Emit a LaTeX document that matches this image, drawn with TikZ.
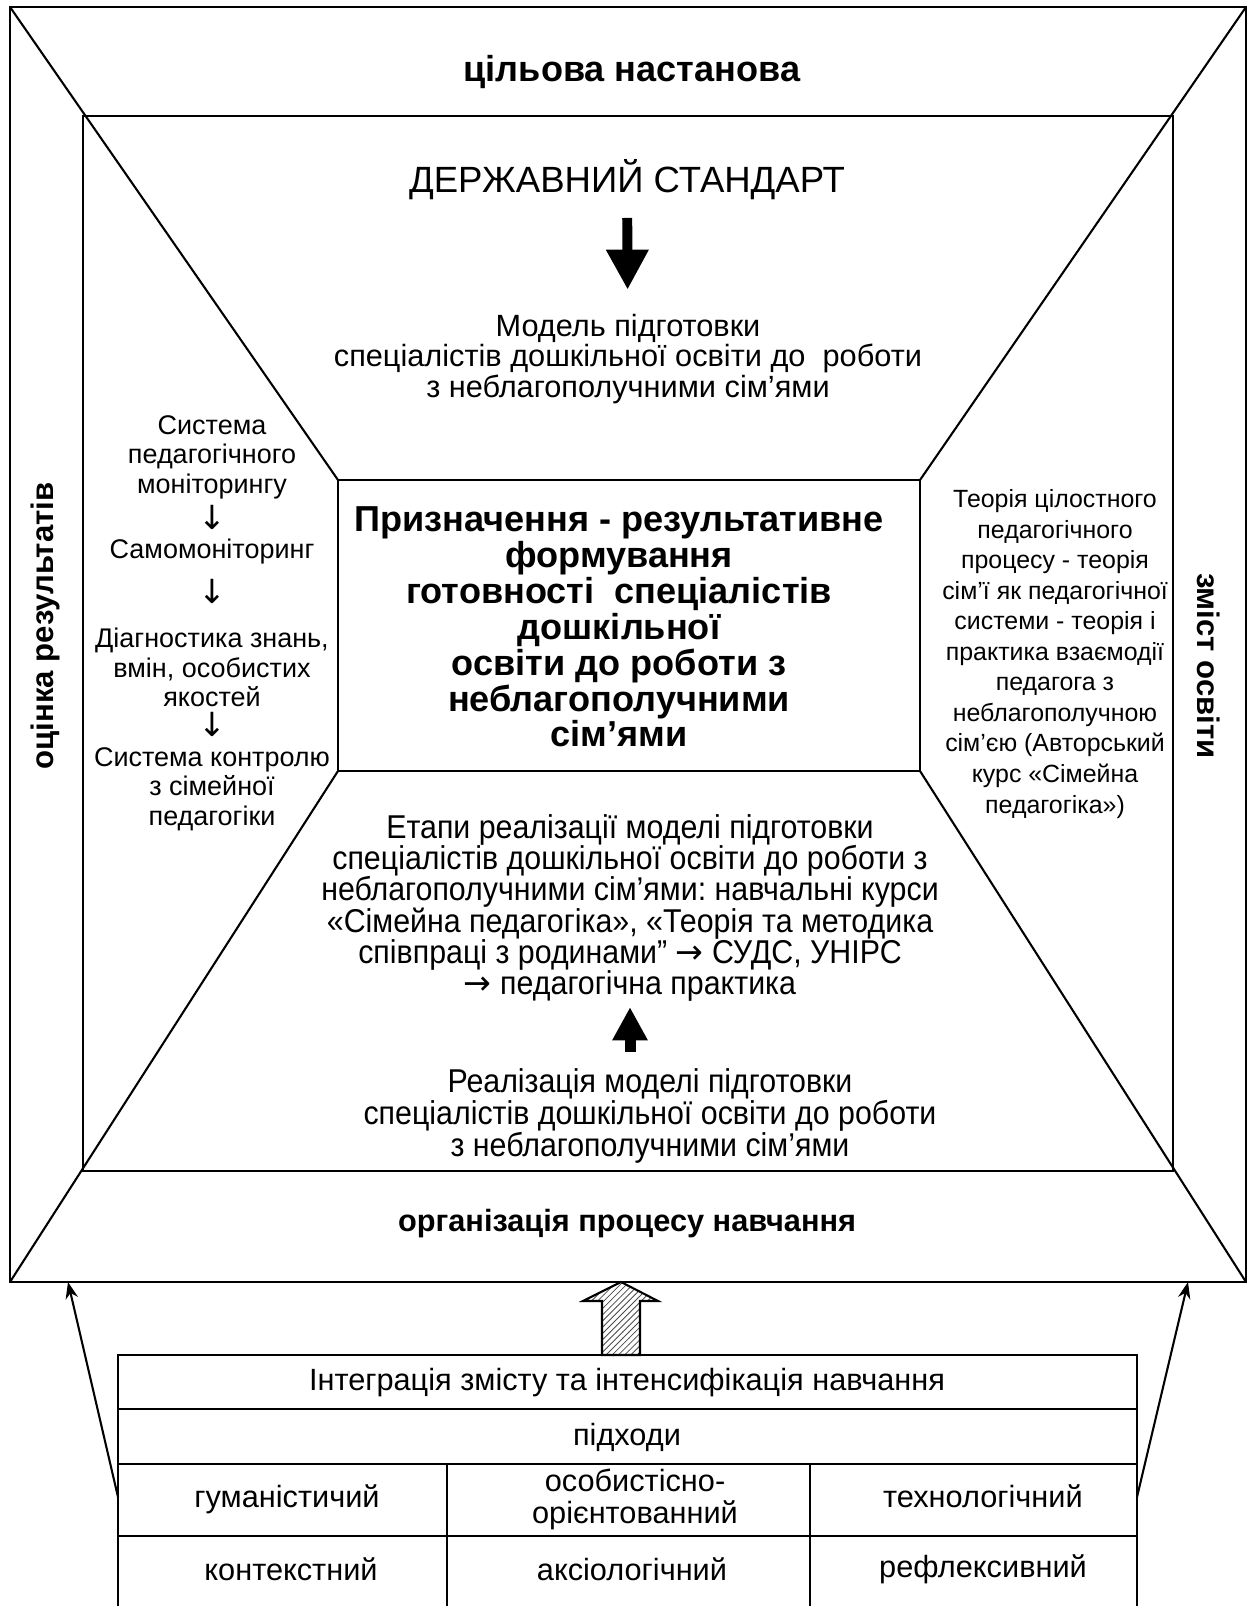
\documentclass[tikz,border=0pt]{standalone}
\usepackage{fontspec}
\setmainfont{Liberation Sans}
\newfontfamily\narrowfont[FakeStretch=0.92]{Liberation Sans}
\newfontfamily\symfont{DejaVu Sans}
\frenchspacing
\lineskiplimit=-\maxdimen
\usetikzlibrary{arrows.meta, patterns, calc}

\tikzset{
  frame/.style={line width=1.3pt},
  diag/.style={line width=1pt},
  txt/.style={align=center, inner sep=0pt},
  blockdown/.style={line width=4.8pt, -{Triangle[width=19.3pt, length=19.3pt]}},
  blockup/.style={line width=5.3pt, -{Triangle[width=16pt, length=16pt]}},
  thinarrow/.style={line width=1pt, -{Stealth[length=8pt, width=6pt]}},
  hatcharrow/.style={line width=1pt, pattern=north east lines, pattern color=black!70},
  cell/.style={txt, font=\fontsize{14.8}{15.5}\selectfont}
}
\newcommand{\dnarr}{{\symfont\fontsize{16}{13}\selectfont ↓}}
\newcommand{\rtarr}{{\symfont\fontsize{16}{14}\selectfont →}}

\begin{document}
\begin{tikzpicture}[x=0.4818pt, y=-0.4818pt]

 %%Paramaters
\useasboundingbox (0,0) rectangle (1254,1606);
\def\tabL{118}
\def\tabR{1137}
\def\colA{447}
\def\colB{810}

%% frames
\draw[frame] (10,7) rectangle (1246,1282);
\draw[frame] (83,116) rectangle (1173,1171);
\draw[frame] (338,480) rectangle (920,771);
\draw[diag] (10,7) -- (338,480);
\draw[diag] (1246,7) -- (920,480);
\draw[diag] (10,1282) -- (338,771);
\draw[diag] (1246,1282) -- (920,771);

%% side labels
\node[txt, font=\bfseries\fontsize{17.4}{20}\selectfont] (goal) at (632,72) {цільова настанова};
\node[txt, font=\bfseries\fontsize{14.8}{17}\selectfont] (organis) at (627,1224) {організація процесу навчання};
\node[txt, rotate=90, font=\bfseries\fontsize{15}{18}\selectfont] (evaluation) at (45,626) {оцінка результатів};
\node[txt, rotate=-90, font=\bfseries\fontsize{15}{18}\selectfont] (content) at (1209,666) {зміст освіти};

%% top part
\node[txt, font=\fontsize{17.6}{21}\selectfont] (standard) at (627,180) {ДЕРЖАВНИЙ СТАНДАРТ};
\node[txt, font=\fontsize{14.8}{14.7}\selectfont] (model) at (628,359)
  {Модель підготовки\\спеціалістів дошкільної освіти до~ роботи\\з неблагополучними сім’ями};
\draw[blockdown, shorten <=8.4pt, shorten >=11.6pt] (standard) -- (model);

%% centre
\node[txt, font=\bfseries\fontsize{17.4}{17.3}\selectfont] (purpose) at (619,627)
  {Призначення - результативне\\формування\\готовності~ спеціалістів\\дошкільної\\освіти до роботи з\\неблагополучними\\сім’ями};

%% left and right
\node[txt, font=\fontsize{13}{14.3}\selectfont] (monitor) at (212,623)
  {Система\\педагогічного\\моніторингу\\[3pt]\dnarr\\Самомоніторинг\\[7pt]\dnarr\\[7pt]Діагностика знань,\\вмін, особистих\\якостей\\\dnarr\\Система контролю\\з сімейної\\педагогіки};
\node[txt, font=\fontsize{12}{14.7}\selectfont] (theory) at (1055,654)
  {Теорія цілостного\\педагогічного\\процесу - теорія\\сім’ї як педагогічної\\системи - теорія і\\практика взаємодії\\педагога з\\неблагополучною\\сім’єю (Авторський\\курс «Сімейна\\педагогіка»)};

%% bottom part
\node[txt, font=\narrowfont\fontsize{15.9}{15.1}\selectfont] (stages) at (630,908)
  {Етапи реалізації моделі підготовки\\спеціалістів дошкільної освіти до роботи з\\неблагополучними сім’ями: навчальні курси\\«Сімейна педагогіка», «Теорія та методика\\співпраці з родинами” \rtarr{} СУДС, УНІРС\\\rtarr{} педагогічна практика};
\node[txt, font=\narrowfont\fontsize{15.9}{15.4}\selectfont] (realis) at (650,1116)
  {Реалізація моделі підготовки\\спеціалістів дошкільної освіти до роботи\\з неблагополучними сім’ями};
\draw[blockup, shorten <=8pt, shorten >=2.4pt] (realis.north -| stages.south) -- (stages.south);

%% table
\draw[frame] (\tabL,1620) |- (\tabR,1355) -- (\tabR,1620);
\draw[frame] (\tabL,1409) -- (\tabR,1409);
\draw[frame] (\tabL,1464) -- (\tabR,1464);
\draw[frame] (\tabL,1536) -- (\tabR,1536);
\draw[frame] (\colA,1464) -- (\colA,1620);
\draw[frame] (\colB,1464) -- (\colB,1620);

\node[cell] (integr) at (627,1383) {Інтеграція змісту та інтенсифікація навчання};
\node[cell] (appr) at (627,1437) {підходи};
\node[cell] (human) at (287,1499) {гуманістичий};
\node[cell] (person) at (635,1499) {особистісно-\\орієнтованний};
\node[cell] (techn) at (983,1496) {технологічний};
\node[cell] (context) at (291,1569) {контекстний};
\node[cell] (axio) at (632,1569) {аксіологічний};
\node[cell] (reflex) at (983,1569) {рефлексивний};

%% hatched arrow into frame
\draw[hatcharrow] (602,1355) -- (602,1301) -- (583,1301) -- (621,1282)
  -- (658,1301) -- (640,1301) -- (640,1355) -- cycle;

%% side arrows
\coordinate (tabLeft) at (\tabL,1497);
\coordinate (tabRight) at (\tabR,1497);
\coordinate (frameLeft) at (68,1282);
\coordinate (frameRight) at (1188,1282);
\draw[thinarrow] (tabLeft) -- (frameLeft);
\draw[thinarrow] (tabRight) -- (frameRight);

\end{tikzpicture}
\end{document}
